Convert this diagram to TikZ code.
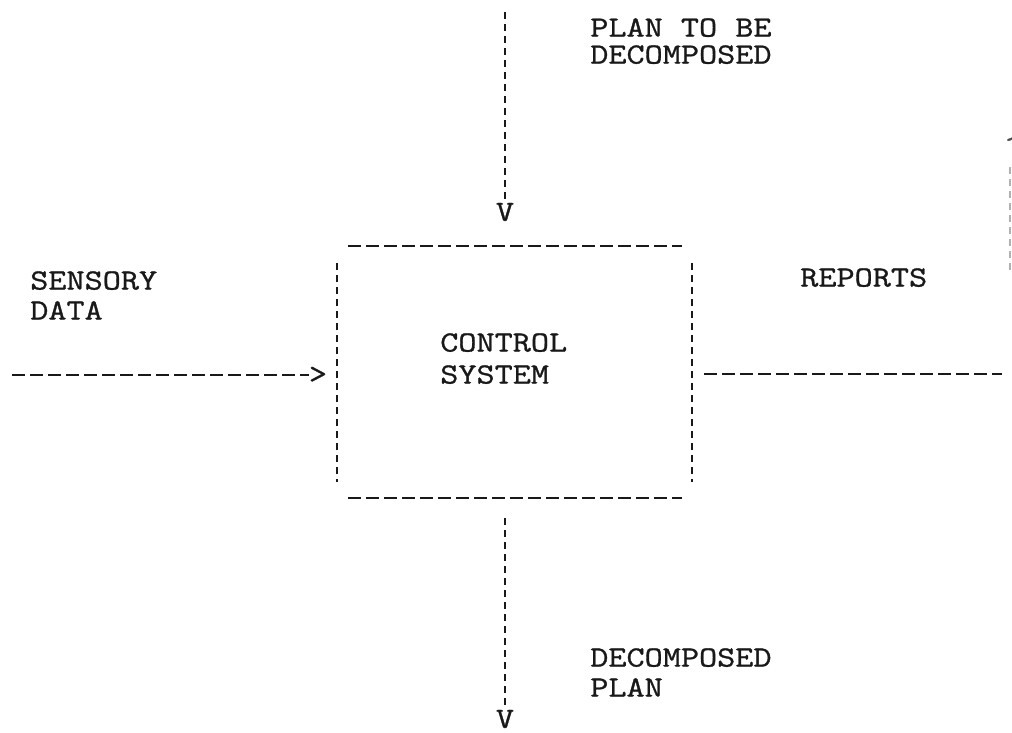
\documentclass[tikz,border=0pt]{standalone}
\usepackage{fontspec}
\newfontfamily\tw[FakeStretch=1.2,FakeBold=1]{Latin Modern Mono}
\begin{document}
\begin{tikzpicture}[x=0.75pt,y=-0.75pt,
  lab/.style={font=\tw\fontsize{22}{#1}\selectfont, inner sep=0pt, anchor=north west, align=left, text=black!90},
  tip/.style={font=\tw\fontsize{22}{22}\selectfont, inner sep=0pt, text=black!90},
  dline/.style={line width=2.1pt, dash pattern=on 9.5pt off 4pt, black!90},
  vline/.style={line width=2.1pt, dash pattern=on 5.5pt off 3.5pt, black!90}]
\useasboundingbox (0,0) rectangle (1012,732);

% the control system box, drawn as four separate dashed sides
\coordinate (tl) at (348,246); \coordinate (tr) at (682,246);
\coordinate (bl) at (348,498); \coordinate (br) at (682,498);
\coordinate (lt) at (337,263); \coordinate (lb) at (337,482);
\coordinate (rt) at (692,263); \coordinate (rb) at (692,482);
\draw[dline] (tl) -- (tr);
\draw[dline] (bl) -- (br);
\draw[vline] (lt) -- (lb);
\draw[vline] (rt) -- (rb);
\node[lab=24pt] (cs) at (440,333) {CONTROL\\SYSTEM};

% plan coming in from above
\node[lab=20.25pt] (plan) at (590,18) {PLAN TO BE\\DECOMPOSED};
\coordinate (pin) at (505,12);
\node[tip] (vtop) at (505,212) {V};
\draw[vline] (pin) -- (vtop.north);

% sensory data from the left
\node[lab=22.5pt] (sens) at (30,271) {SENSORY\\DATA};
\coordinate (sin) at (12,375);
\node[tip] (gt) at (318,375) {>};
\draw[dline] (sin) -- (gt.west);

% reports leaving to the right and up
\node[lab=23pt] (rep) at (800,268) {REPORTS};
\coordinate (rin) at (704,374);
\coordinate (rout) at (1002,374);
\draw[dline] (rin) -- (rout);
\coordinate (rupb) at (1010,270);
\node[tip, black!70] (rup) at (1014,146) {\textasciicircum};
\draw[vline, black!30, line width=1.2pt] (rupb) -- (1010,165);

% decomposed plan going down
\node[lab=22.5pt] (dec) at (590,648) {DECOMPOSED\\PLAN};
\coordinate (dout) at (505,518);
\node[tip] (vbot) at (505,719) {V};
\draw[vline] (dout) -- ([yshift=3pt]vbot.north);
\end{tikzpicture}
\end{document}
